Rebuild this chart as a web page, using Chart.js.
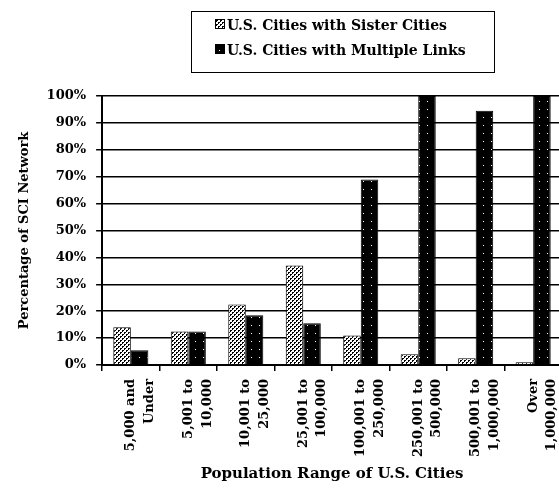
<!DOCTYPE html>
<html>
<head>
<meta charset="utf-8">
<script src="https://cdn.jsdelivr.net/npm/chart.js@4.4.0/dist/chart.umd.min.js"></script>
<style>
  html, body { margin: 0; padding: 0; background: #fff; overflow: hidden; }
  #wrap { position: relative; width: 579px; height: 491px; }
  #legend {
    position: absolute; left: 191px; top: 11px; width: 304px; height: 62px;
    border: 1px solid #000; box-sizing: border-box;
    font: bold 14px "DejaVu Serif", serif; color: #000;
  }
  #legend .row { position: absolute; left: 23px; height: 18px; line-height: 18px; white-space: nowrap; }
  #legend .box { display: inline-block; width: 8px; height: 8px; border: 1px solid #000; margin-right: 2px; vertical-align: 1px; }
</style>
</head>
<body>
<div id="wrap">
  <canvas id="chart" width="579" height="491"></canvas>
  <div id="legend"></div>
</div>
<script>
// Categories (population ranges), two lines each
const categories = [
  ["5,000 and", "Under"],
  ["5,001 to", "10,000"],
  ["10,001 to", "25,000"],
  ["25,001 to", "100,000"],
  ["100,001 to", "250,000"],
  ["250,001 to", "500,000"],
  ["500,001 to", "1,000,000"],
  ["Over", "1,000,000"]
];

// Percentages
const sisterCities = [14, 12.5, 22.5, 37, 11, 4, 2.5, 1];
const multipleLinks = [5.5, 12.5, 18.5, 15.5, 69, 100, 94.5, 100];

const seriesLabels = ["U.S. Cities with Sister Cities", "U.S. Cities with Multiple Links"];
const yTicks = [0, 10, 20, 30, 40, 50, 60, 70, 80, 90, 100];

const FONT = '"DejaVu Serif", serif';

// Fill patterns for the bars
function makeTile(draw, size) {
  const c = document.createElement("canvas");
  c.width = size; c.height = size;
  draw(c.getContext("2d"));
  return c;
}
const sisterTile = makeTile(ctx => {
  ctx.fillStyle = "#fff"; ctx.fillRect(0, 0, 4, 4);
  ctx.fillStyle = "#000";
  ctx.fillRect(0, 0, 2, 1); ctx.fillRect(0, 1, 1, 1);
  ctx.fillRect(2, 2, 2, 1); ctx.fillRect(2, 3, 1, 1);
}, 4);
const multiTile = makeTile(ctx => {
  ctx.fillStyle = "#000"; ctx.fillRect(0, 0, 8, 8);
  ctx.fillStyle = "#fff"; ctx.fillRect(3, 5, 1, 1);
}, 8);

const canvas = document.getElementById("chart");
const c2d = canvas.getContext("2d");
const sisterPattern = c2d.createPattern(sisterTile, "repeat");
const multiPattern = c2d.createPattern(multiTile, "repeat");

const chart = new Chart(canvas, {
  type: "bar",
  data: {
    labels: categories,
    datasets: [
      { label: seriesLabels[0], data: sisterCities, backgroundColor: sisterPattern, borderColor: "#000", borderWidth: 1 },
      { label: seriesLabels[1], data: multipleLinks, backgroundColor: multiPattern, borderColor: "#000", borderWidth: 1 }
    ]
  },
  options: {
    responsive: false,
    animation: false,
    layout: { padding: { top: 96, left: 17, right: 2, bottom: 8 } },
    datasets: { bar: { barPercentage: 1.0, categoryPercentage: 0.61 } },
    plugins: { legend: { display: false }, tooltip: { enabled: false } },
    scales: {
      x: {
        grid: { display: true, drawOnChartArea: false, offset: true, color: "#000", lineWidth: 1.5, tickLength: 6 },
        border: { color: "#000", width: 2 },
        ticks: {
          autoSkip: false, minRotation: 90, maxRotation: 90, padding: 8,
          color: "#000", font: { family: FONT, size: 13, weight: "bold", lineHeight: 1.45 }
        },
        title: {
          display: true, text: "Population Range of U.S. Cities", color: "#000",
          font: { family: FONT, size: 15, weight: "bold" }, padding: { top: 0, bottom: 0 }
        }
      },
      y: {
        min: 0, max: 100,
        afterBuildTicks: axis => { axis.ticks = yTicks.map(v => ({ value: v })); },
        grid: { color: "#000", lineWidth: 1.5, tickLength: 6 },
        border: { color: "#000", width: 2 },
        ticks: {
          callback: v => v + "%", padding: 10, color: "#000",
          font: { family: FONT, size: 13, weight: "bold" }
        },
        title: {
          display: true, text: "Percentage of SCI Network", color: "#000",
          font: { family: FONT, size: 13, weight: "bold" }, padding: { top: 0, bottom: 4 }
        }
      }
    }
  }
});

// HTML legend built from the chart's datasets
const legendEl = document.getElementById("legend");
const tiles = [sisterTile, multiTile];
chart.data.datasets.forEach((ds, i) => {
  const row = document.createElement("div");
  row.className = "row";
  row.style.top = (4 + i * 25) + "px";
  const box = document.createElement("span");
  box.className = "box";
  box.style.backgroundImage = `url(${tiles[i].toDataURL()})`;
  row.appendChild(box);
  row.appendChild(document.createTextNode(ds.label));
  legendEl.appendChild(row);
});
</script>
</body>
</html>
